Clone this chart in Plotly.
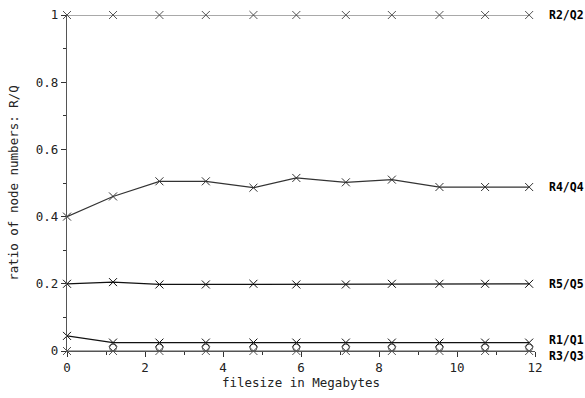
import plotly.graph_objects as go

filesize = [0.0, 1.18, 2.37, 3.56, 4.78, 5.88, 7.15, 8.33, 9.55, 10.72, 11.85]
r1_q1 = [0.045, 0.025, 0.025, 0.025, 0.025, 0.025, 0.025, 0.025, 0.025, 0.025, 0.025]
r2_q2 = [1.0] * 11
r3_q3 = [0.0] * 11
r4_q4 = [0.400, 0.460, 0.505, 0.505, 0.486, 0.515, 0.502, 0.510, 0.488, 0.488, 0.488]
r5_q5 = [0.200, 0.205, 0.198, 0.198, 0.200, 0.198, 0.198, 0.200, 0.200, 0.200, 0.200]
circ_x = filesize[1:]
circ_y = [0.010] * 10

series = [
    ("R1/Q1", r1_q1, "#111111", 3),
    ("R2/Q2", r2_q2, "#555555", 0),
    ("R3/Q3", r3_q3, "#555555", -5),
    ("R4/Q4", r4_q4, "#333333", 0),
    ("R5/Q5", r5_q5, "#111111", 0),
]

MONO = "DejaVu Sans Mono"
fig = go.Figure()
fig.add_trace(go.Scatter(x=circ_x, y=circ_y, mode="markers",
                         marker=dict(symbol="circle-open", size=7, color="#555555", line=dict(width=1)),
                         cliponaxis=False, showlegend=False))
for name, ys, col, dy in series:
    fig.add_trace(go.Scatter(x=filesize, y=ys, mode="lines+markers", name=name,
                             line=dict(color=col, width=1.2),
                             marker=dict(symbol="x-thin", size=8, color=col, line=dict(width=1, color=col)),
                             cliponaxis=False, showlegend=False))
    fig.add_annotation(x=12, y=ys[-1], xref="x", yref="y", text="<b>%s</b>" % name,
                       showarrow=False, xanchor="left", xshift=12, yshift=dy,
                       font=dict(family=MONO, size=11.5, color="black"))

TF = dict(family=MONO, size=12.5, color="#222222")
fig.update_layout(
    width=585, height=398,
    margin=dict(l=67, r=50, t=15, b=47, autoexpand=False),
    plot_bgcolor="white", paper_bgcolor="white",
    font=TF,
)
fig.update_xaxes(range=[0, 12], tickvals=[0, 2, 4, 6, 8, 10, 12], ticks="outside", ticklen=5,
                 tickcolor="#333333", showgrid=False, zeroline=False, showline=True,
                 linecolor="#555555", linewidth=1.2, automargin=False, tickfont=TF,
                 ticklabeloverflow="allow",
                 minor=dict(tickvals=[1, 3, 5, 7, 9, 11], ticks="outside", ticklen=3, tickcolor="#333333"),
                 title=dict(text="filesize in Megabytes", standoff=4, font=TF))
fig.update_yaxes(range=[0, 1], tickvals=[0, 0.2, 0.4, 0.6, 0.8, 1], ticktext=["0", "0.2", "0.4", "0.6", "0.8", "1"],
                 ticks="outside", ticklen=5, tickcolor="#333333", showgrid=False, zeroline=False,
                 showline=True, linecolor="#555555", linewidth=1.2, automargin=False, tickfont=TF,
                 ticklabeloverflow="allow",
                 minor=dict(tickvals=[0.1, 0.3, 0.5, 0.7, 0.9], ticks="outside", ticklen=3, tickcolor="#333333"),
                 title=dict(text="ratio of node numbers: R/Q", standoff=14, font=TF))

fig.write_html("out.html", config={"displayModeBar": False},
               post_script="document.body.style.margin='0';document.body.style.overflow='hidden';")
